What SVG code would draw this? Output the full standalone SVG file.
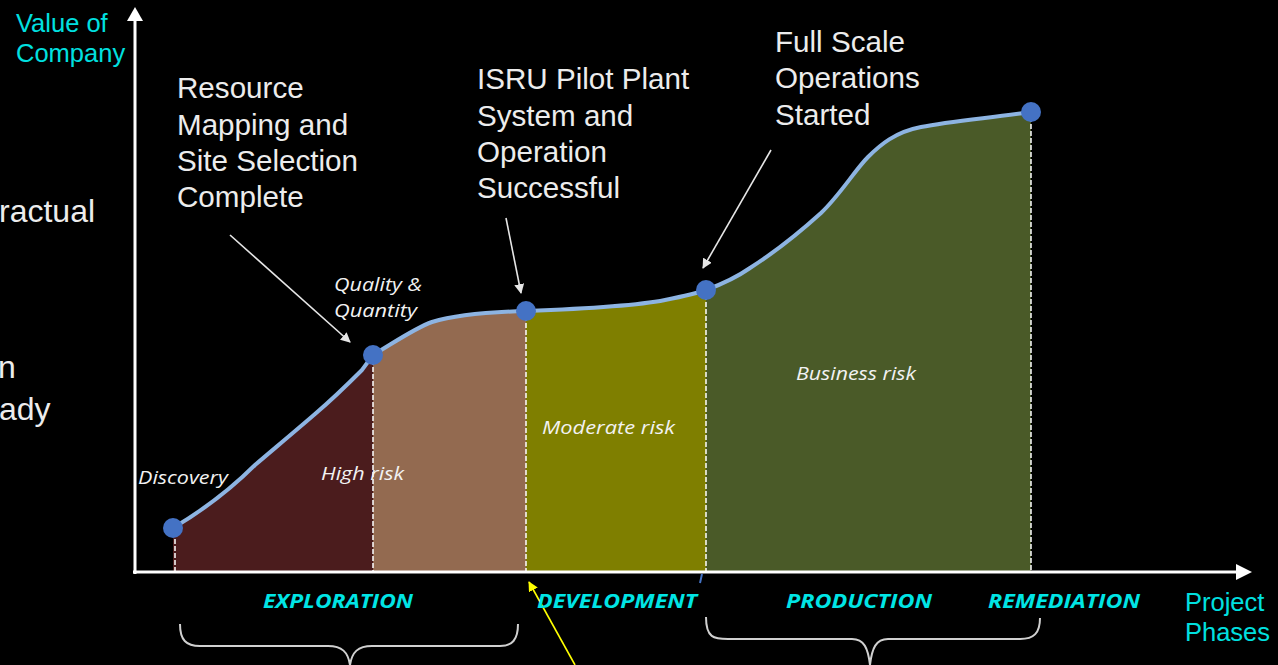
<svg xmlns="http://www.w3.org/2000/svg" width="1278" height="665" viewBox="0 0 1278 665">
<style>
.ann{font-family:"Liberation Sans",Arial,sans-serif;font-size:29.6px;fill:#ececec}
.cy{font-family:"Liberation Sans",Arial,sans-serif;font-size:25.5px;fill:#00e0e0}
.it{font-family:"Open Sans","Noto Sans",sans-serif;font-style:italic;font-size:19px;fill:#f2f2f2}
.ph{font-family:"Open Sans","Noto Sans",sans-serif;font-style:italic;font-weight:bold;font-size:20px;fill:#00e5e5;text-anchor:middle}
.dash{stroke:#ffffff;stroke-width:1.5;stroke-dasharray:5 2;fill:none}
.pt{fill:#4472c4}
.arr{stroke:#e6e6e6;stroke-width:1.6;fill:none}
.brace{stroke:#d0d0d0;stroke-width:2;fill:none}
.cut{font-family:"Liberation Sans",Arial,sans-serif;font-size:32px;fill:#ececec}
</style>
<defs>
<marker id="ah" markerWidth="10" markerHeight="10" refX="9" refY="5" orient="auto" markerUnits="userSpaceOnUse"><path d="M0,0 L10,5 L0,10 Z" fill="#e6e6e6"/></marker>
<marker id="ahy" markerWidth="10" markerHeight="10" refX="9" refY="5" orient="auto" markerUnits="userSpaceOnUse"><path d="M0,0 L10,5 L0,10 Z" fill="#ffff00"/></marker>
<clipPath id="area"><path d="M173,528 C200,512 230,490 255,465 C275,448 300,427 315,414 C335,397 352,380 362,370 L373,355 C395,342 415,328 432,322 C455,315 490,312 526,311 C580,309 640,305 665,300 C680,297 695,294 706,290 C725,283 740,275 750,268 C775,252 800,232 821,213 C840,195 855,170 868,157 C880,145 895,132 921,127 C950,121 990,118 1031,112 L1031,572 L173,572 Z"/></clipPath>
</defs>
<rect width="1278" height="665" fill="#000"/>
<g id="bands" clip-path="url(#area)">
<rect x="173" y="100" width="200" height="472" fill="#4b1c1d"/>
<rect x="373" y="100" width="153" height="472" fill="#936a50"/>
<rect x="526" y="100" width="180" height="472" fill="#7f7f00"/>
<rect x="706" y="100" width="325" height="472" fill="#4a5a28"/>
</g>
<g id="dividers">
<line class="dash" x1="175" y1="532" x2="175" y2="571"/>
<line class="dash" x1="373" y1="360" x2="373" y2="571"/>
<line class="dash" x1="526" y1="316" x2="526" y2="571"/>
<line class="dash" x1="706" y1="295" x2="706" y2="571"/>
<line class="dash" x1="1031" y1="117" x2="1031" y2="571"/>
</g>
<g id="curve">
<path d="M173,528 C200,512 230,490 255,465 C275,448 300,427 315,414 C335,397 352,380 362,370 L373,355 C395,342 415,328 432,322 C455,315 490,312 526,311 C580,309 640,305 665,300 C680,297 695,294 706,290 C725,283 740,275 750,268 C775,252 800,232 821,213 C840,195 855,170 868,157 C880,145 895,132 921,127 C950,121 990,118 1031,112" fill="none" stroke="#8db4e2" stroke-width="4"/>
</g>
<g id="axes">
<line x1="135" y1="574" x2="135" y2="20" stroke="#fff" stroke-width="3"/>
<path d="M127,21 L135,7 L143,21 Z" fill="#fff"/>
<line x1="133" y1="572" x2="1237" y2="572" stroke="#fff" stroke-width="3"/>
<path d="M1236,564 L1252,572 L1236,580 Z" fill="#fff"/>
<line x1="702" y1="574" x2="700" y2="583" stroke="#4472c4" stroke-width="2"/>
</g>
<g id="connectors">
<line class="arr" x1="230" y1="235" x2="350" y2="342" marker-end="url(#ah)"/>
<line class="arr" x1="506" y1="218" x2="521" y2="293" marker-end="url(#ah)"/>
<line class="arr" x1="771" y1="150" x2="703" y2="268" marker-end="url(#ah)"/>
<line x1="575" y1="665" x2="529" y2="582" stroke="#ffff00" stroke-width="1.6" marker-end="url(#ahy)"/>
</g>
<g id="node-discovery"><circle class="pt" cx="173" cy="528" r="10"/><text class="it" x="138" y="484" textLength="90" lengthAdjust="spacingAndGlyphs">Discovery</text></g>
<g id="node-quality"><circle class="pt" cx="373" cy="355" r="10"/><text class="it" x="334" y="291" textLength="88" lengthAdjust="spacingAndGlyphs">Quality &amp;</text><text class="it" x="334" y="317" textLength="83" lengthAdjust="spacingAndGlyphs">Quantity</text></g>
<g id="node-pilot"><circle class="pt" cx="526" cy="311" r="10"/></g>
<g id="node-fullscale"><circle class="pt" cx="706" cy="290" r="10"/></g>
<g id="node-end"><circle class="pt" cx="1031" cy="112" r="10"/></g>
<g id="risk-labels">
<text class="it" x="321" y="480" textLength="83" lengthAdjust="spacingAndGlyphs">High risk</text>
<text class="it" x="542" y="434" textLength="133" lengthAdjust="spacingAndGlyphs">Moderate risk</text>
<text class="it" x="796" y="380" textLength="120" lengthAdjust="spacingAndGlyphs">Business risk</text>
</g>
<g id="annotations">
<text class="ann" x="177" y="98">Resource</text>
<text class="ann" x="177" y="135">Mapping and</text>
<text class="ann" x="177" y="171">Site Selection</text>
<text class="ann" x="177" y="207">Complete</text>
<text class="ann" x="477" y="89">ISRU Pilot Plant</text>
<text class="ann" x="477" y="126">System and</text>
<text class="ann" x="477" y="162">Operation</text>
<text class="ann" x="477" y="198">Successful</text>
<text class="ann" x="775" y="52">Full Scale</text>
<text class="ann" x="775" y="88">Operations</text>
<text class="ann" x="775" y="125">Started</text>
</g>
<g id="axis-labels">
<text class="cy" x="16" y="32">Value of</text>
<text class="cy" x="16" y="62">Company</text>
<text class="cy" x="1185" y="611">Project</text>
<text class="cy" x="1185" y="641">Phases</text>
</g>
<g id="cropped-left">
<text class="cut" x="-1" y="222">ractual</text>
<text class="cut" x="-2" y="378">n</text>
<text class="cut" x="-1" y="420">ady</text>
</g>
<g id="phases">
<text class="ph" x="338" y="608" textLength="150" lengthAdjust="spacingAndGlyphs">EXPLORATION</text>
<text class="ph" x="617" y="608" textLength="160" lengthAdjust="spacingAndGlyphs">DEVELOPMENT</text>
<text class="ph" x="859" y="608" textLength="146" lengthAdjust="spacingAndGlyphs">PRODUCTION</text>
<text class="ph" x="1064" y="608" textLength="152" lengthAdjust="spacingAndGlyphs">REMEDIATION</text>
</g>
<g id="braces">
<path class="brace" d="M180,624 C180,640 186,646 200,646 L328,646 C342,646 348,652 350,665 C352,652 358,646 372,646 L500,646 C512,646 518,640 518,624"/>
<path class="brace" d="M706,617 C706,638 714,639 728,639 L852,639 C864,639 868,648 870,665 C872,648 876,639 888,639 L1020,639 C1034,639 1040,633 1040,618"/>
</g>
</svg>
